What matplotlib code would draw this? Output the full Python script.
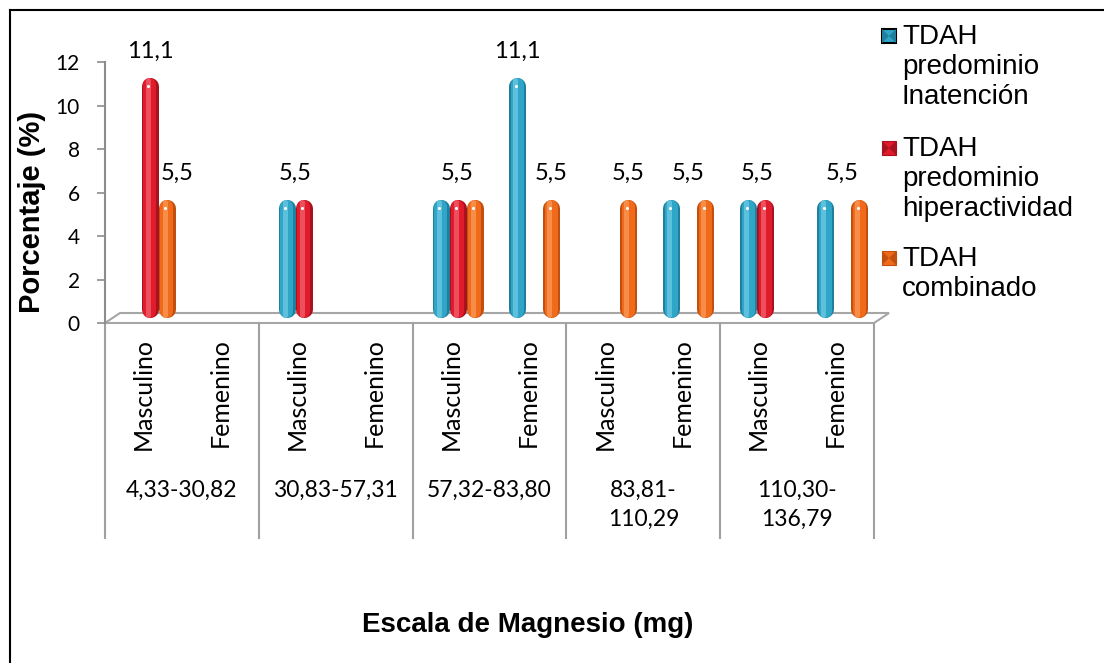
import matplotlib.pyplot as plt
from matplotlib.patches import Polygon, Rectangle
import numpy as np

# data
categories = ["Masculino", "Femenino"] * 5
groups = ["4,33-30,82", "30,83-57,31", "57,32-83,80", "83,81-\n110,29", "110,30-\n136,79"]
series = ["TDAH\npredominio\nInatención", "TDAH\npredominio\nhiperactividad", "TDAH\ncombinado"]
inatencion = [0, 0, 5.5, 0, 5.5, 11.1, 0, 5.5, 5.5, 5.5]
hiperactividad = [11.1, 0, 5.5, 0, 5.5, 0, 0, 0, 5.5, 0]
combinado = [5.5, 0, 0, 0, 5.5, 5.5, 5.5, 5.5, 0, 5.5]
colors = ["#2fa6c8", "#e01b2b", "#f06a1a"]
dark_colors = ["#1f7f9c", "#a8121e", "#c04f10"]
light_colors = ["#7fd3ea", "#f77380", "#fba66a"]
yticks = [0, 2, 4, 6, 8, 10, 12]

W, H = 1104, 663
fig = plt.figure(figsize=(W / 100, H / 100), dpi=100)

# main axes placed in pixel terms
left, right, top, bottom = 105, 874, 62, 323
ax = fig.add_axes([left / W, 1 - bottom / H, (right - left) / W, (bottom - top) / H])
ax.set_xlim(-0.5, 9.5)
ax.set_ylim(0, 12)
px = (bottom - top) / 12.0  # pixels per unit
ux = (right - left) / 10.0  # pixels per category

for s in ["top", "right", "bottom"]:
    ax.spines[s].set_visible(False)
ax.spines["left"].set_color("#8c8c8c")
ax.spines["left"].set_linewidth(1.5)
ax.set_yticks(yticks)
ax.set_yticklabels([str(t) for t in yticks], fontsize=15, family="Lato")
ax.tick_params(axis="y", direction="out", length=6, width=1.2, color="#8c8c8c", pad=12)
ax.set_xticks([])

# 3d-ish floor
dx3, dy3 = 15 / ux, 10 / px
floor = Polygon([(-0.5, 0), (9.5, 0), (9.5 + dx3, dy3), (-0.5 + dx3, dy3)], closed=True,
                facecolor="white", edgecolor="#a6a6a6", lw=1.5, clip_on=False, zorder=1)
ax.add_patch(floor)

# cylinder bars as round-capped thick lines
bw = 17 / ux
shift = 6.5 / ux
base = 6 / px
lift = 0.18
x = np.arange(len(categories))
all_series = [inatencion, hiperactividad, combinado]


def draw_layer(xs, vals, width_px, color, alpha=1.0, dx=0.0, z=3):
    cap = width_px / 2 / px
    for xi, v in zip(xs, vals):
        if v <= 0:
            continue
        ax.vlines(xi + dx, base + cap, v + lift - cap, colors=color, linewidth=width_px * 0.72,
                  capstyle="round", alpha=alpha, zorder=z, clip_on=False)


for k, vals in enumerate(all_series):
    xs = x + (k - 1) * bw + shift
    draw_layer(xs, vals, 17, dark_colors[k], z=3)
    draw_layer(xs, vals, 13, colors[k], dx=-0.5 / ux, z=4)
    draw_layer(xs, vals, 5, light_colors[k], alpha=0.6, dx=-2 / ux, z=5)
    tops = [v + lift - 8.5 / px for v in vals if v > 0]
    txs = [xi - 1.5 / ux for xi, v in zip(xs, vals) if v > 0]
    ax.scatter(txs, tops, s=5, color="white", zorder=6, clip_on=False, linewidths=0)

# data labels
for i in range(len(categories)):
    vals = [s[i] for s in all_series]
    for v in sorted(set(vals)):
        if v <= 0:
            continue
        ks = [k for k in range(3) if vals[k] == v]
        xs = [x[i] + (k - 1) * bw + shift for k in ks]
        xl = np.mean(xs)
        # nudge when a taller neighbouring bar would cover the label
        if any(0 <= k - 1 < 3 and vals[k - 1] > v for k in ks):
            xl += 10 / ux
        ax.text(xl, v + 1.4, f"{v:.1f}".replace(".", ","), ha="center", va="center",
                fontsize=17, family="Lato", clip_on=False)

# category axis: separators, sex labels, range labels
ax.vlines(np.arange(-0.5, 10, 2), -(539 - bottom) / px, 0, colors="#a0a0a0", lw=1.5, clip_on=False)
for i, c in enumerate(categories):
    ax.text(x[i], -(338 - bottom) / px, c, rotation=90, ha="center", va="top",
            fontsize=18, family="Lato", clip_on=False)
for g, lab in enumerate(groups):
    ax.text(2 * g + 0.5, -(480 - bottom) / px, lab, ha="center", va="top", fontsize=16.5,
            family="Lato", linespacing=1.45, clip_on=False)

# overlay axes in pixel coordinates for titles, legend and frame
ov = fig.add_axes([0, 0, 1, 1])
ov.set_xlim(0, W)
ov.set_ylim(H, 0)
ov.axis("off")
ov.patch.set_visible(False)

ov.plot([10, W], [10, 10], color="black", lw=1.5)
ov.plot([10, 10], [10, H], color="black", lw=1.5)

ov.text(32, 212, "Porcentaje (%)", rotation=90, ha="center", va="center", fontsize=21,
        fontweight="bold", family="Liberation Sans")
ov.text(528, 632, "Escala de Magnesio (mg)", ha="center", va="baseline", fontsize=20,
        fontweight="bold", family="Liberation Sans")

item_tops = [24, 136, 246]
for k, lab in enumerate(series):
    cy = item_tops[k] + 12
    ov.add_patch(Rectangle((882, cy - 7), 14, 14, facecolor=colors[k],
                           edgecolor="black" if k == 0 else dark_colors[k], lw=1.5 if k == 0 else 0.8))
    ov.add_patch(Polygon([(882, cy - 7), (889, cy), (882, cy + 7)], closed=True, facecolor=dark_colors[k], lw=0))
    ov.add_patch(Polygon([(896, cy - 7), (889, cy), (896, cy + 7)], closed=True, facecolor=dark_colors[k], lw=0))
    ov.text(902, item_tops[k], lab, ha="left", va="top", fontsize=20, family="Liberation Sans",
            linespacing=1.2)

fig.savefig("out.png", dpi=100)
